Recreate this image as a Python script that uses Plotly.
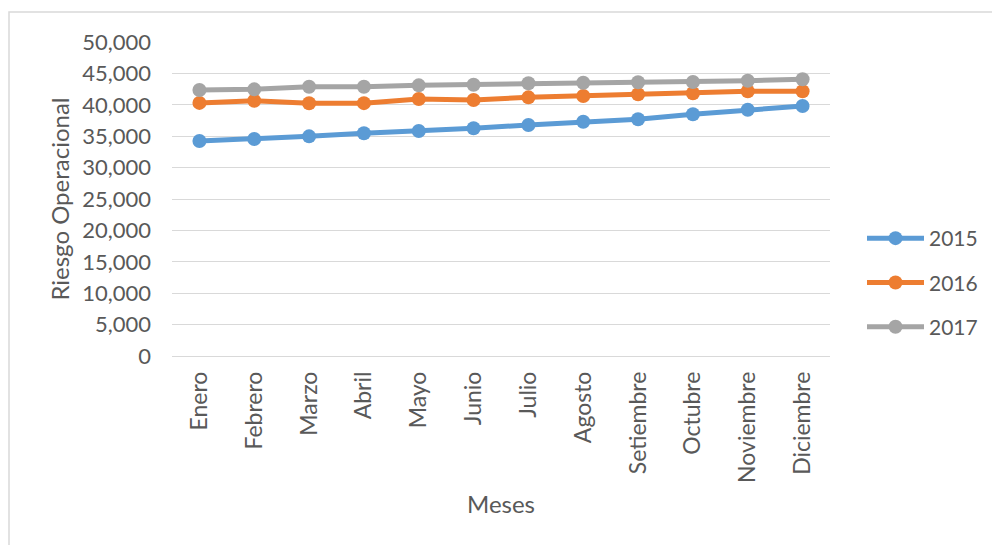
import plotly.graph_objects as go

# Monthly operational risk by year
meses = ["Enero", "Febrero", "Marzo", "Abril", "Mayo", "Junio", "Julio",
         "Agosto", "Setiembre", "Octubre", "Noviembre", "Diciembre"]
riesgo_2015 = [34240, 34550, 34980, 35460, 35830, 36260, 36780,
               37310, 37690, 38490, 39220, 39810]
riesgo_2016 = [40300, 40650, 40240, 40260, 40920, 40760, 41190,
               41400, 41670, 41830, 42150, 42150]
riesgo_2017 = [42360, 42460, 42880, 42880, 43100, 43200, 43420,
               43520, 43580, 43630, 43840, 44060]

series = [("2015", riesgo_2015, "#5B9BD5"),
          ("2016", riesgo_2016, "#ED7D31"),
          ("2017", riesgo_2017, "#A5A5A5")]

TEXT = "#595959"
GRID = "#D9D9D9"
FONT = "Lato, 'Open Sans', sans-serif"

fig = go.Figure()
for name, vals, color in series:
    fig.add_trace(go.Scatter(
        x=meses, y=vals, name=name, mode="lines+markers",
        line=dict(color=color, width=5),
        marker=dict(color=color, size=14),
        legendgroup=name,
    ))

W, H = 992, 545
L, R, T, B = 172, 162, 42, 189
pw, ph = W - L - R, H - T - B

fig.update_layout(
    width=W, height=H,
    margin=dict(l=L, r=R, t=T, b=B, autoexpand=False),
    paper_bgcolor="white", plot_bgcolor="white",
    font=dict(family=FONT, color=TEXT, size=22),
    showlegend=True,
    legend=dict(
        x=(862 - L) / pw, y=(356 - 218) / ph, xanchor="left", yanchor="top",
        font=dict(size=21, color=TEXT), itemwidth=57,
        tracegroupgap=14, traceorder="grouped",
        bgcolor="rgba(0,0,0,0)",
    ),
    xaxis=dict(
        type="category", range=[-0.5, 11.5],
        showgrid=False, showline=False, zeroline=False,
        tickangle=-90, ticks="", ticklabelstandoff=10,
        tickfont=dict(size=23, color=TEXT),
        title=dict(text="Meses", standoff=14, font=dict(size=24, color=TEXT)),
    ),
    yaxis=dict(
        range=[0, 50000], dtick=5000, tickformat=",",
        showgrid=True, gridcolor=GRID, gridwidth=1,
        zeroline=True, zerolinecolor=GRID, zerolinewidth=1,
        showline=False, ticks="", ticklabelstandoff=20,
        tickfont=dict(size=22, color=TEXT),
        title=dict(text="Riesgo Operacional", standoff=5,
                   font=dict(size=24, color=TEXT)),
    ),
    shapes=[dict(
        type="rect", xref="paper", yref="paper",
        x0=(9 - L) / pw, x1=(1000 - L) / pw,
        y0=(356 - 560) / ph, y1=(356 - 12) / ph,
        line=dict(color=GRID, width=1.5), fillcolor="rgba(0,0,0,0)",
        layer="below",
    )],
)

fig.write_html("out.html")
